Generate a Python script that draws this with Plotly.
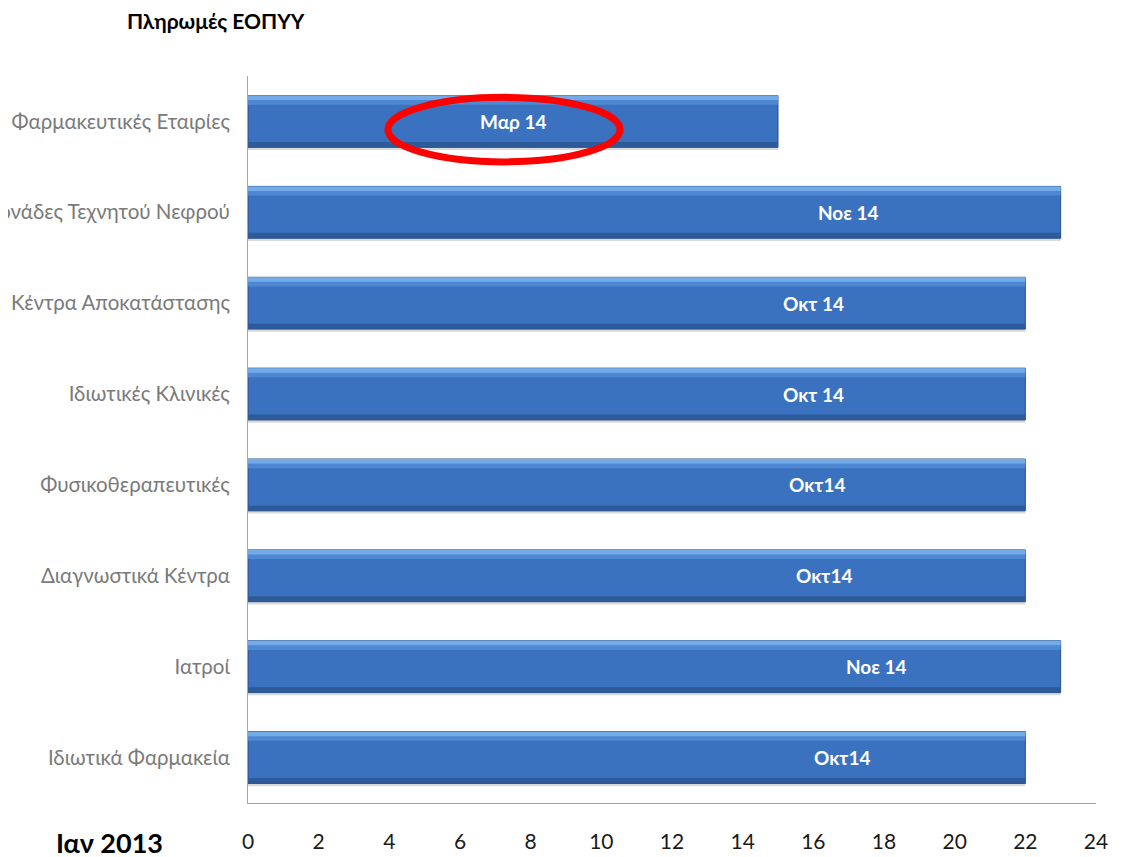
import plotly.graph_objects as go

categories = [
    "Φαρμακευτικές Εταιρίες",
    "Μονάδες Τεχνητού Νεφρού",
    "Κέντρα Αποκατάστασης",
    "Ιδιωτικές Κλινικές",
    "Φυσικοθεραπευτικές",
    "Διαγνωστικά Κέντρα",
    "Ιατροί",
    "Ιδιωτικά Φαρμακεία",
]
months_delay = [15, 23, 22, 22, 22, 22, 23, 22]
bar_labels = ["Μαρ 14", "Νοε 14", "Οκτ 14", "Οκτ 14", "Οκτ14", "Οκτ14", "Νοε 14", "Οκτ14"]
label_x = [7.5, 17.0, 16.0, 16.0, 16.1, 16.3, 17.8, 16.8]
x_ticks = list(range(0, 25, 2))

FONT = "Lato, 'Open Sans', sans-serif"
BW = 0.57

fig = go.Figure()
# soft shadow under each bar
fig.add_trace(go.Bar(
    y=categories, x=months_delay, orientation="h", width=0.03, offset=BW / 2,
    marker=dict(color="#d9d9d9", line=dict(width=0)),
    hoverinfo="skip", showlegend=False,
))
# base bar
fig.add_trace(go.Bar(
    y=categories, x=months_delay, orientation="h", width=BW,
    marker=dict(color="#3b72bf", line=dict(color="#2a4f86", width=1)),
    hoverinfo="x+y", showlegend=False,
))
# top highlight strips (bevel)
fig.add_trace(go.Bar(
    y=categories, x=months_delay, orientation="h", width=0.1, offset=-BW / 2,
    marker=dict(color="#4f88d2", line=dict(width=0)),
    hoverinfo="skip", showlegend=False,
))
fig.add_trace(go.Bar(
    y=categories, x=months_delay, orientation="h", width=0.05, offset=-BW / 2,
    marker=dict(color="#74aae8", line=dict(width=0)),
    hoverinfo="skip", showlegend=False,
))
# bottom shade strip
fig.add_trace(go.Bar(
    y=categories, x=months_delay, orientation="h", width=0.06, offset=BW / 2 - 0.06,
    marker=dict(color="#2d5a99", line=dict(width=0)),
    hoverinfo="skip", showlegend=False,
))

for c, t, lx in zip(categories, bar_labels, label_x):
    fig.add_annotation(x=lx, y=c, text=t, showarrow=False, xref="x", yref="y",
                       font=dict(family=FONT, size=19, color="white", weight="bold"))

# red ellipse highlighting the first bar label
fig.add_shape(type="circle", xref="x", yref="y",
              x0=3.96, x1=10.53, y0=-0.265, y1=0.445,
              line=dict(color="#ff0000", width=7))

fig.add_annotation(text="Πληρωμές ΕΟΠΥΥ", xref="paper", yref="paper",
                   x=-(248 - 216) / 848, y=1 + (76 - 20) / 729, showarrow=False,
                   xanchor="center", yanchor="middle",
                   font=dict(family=FONT, size=21, color="black", weight="bold"))
fig.add_annotation(text="Ιαν 2013", xref="paper", yref="paper",
                   x=-(248 - 109) / 848, y=-(845 - 805) / 729, showarrow=False,
                   xanchor="center", yanchor="middle",
                   font=dict(family=FONT, size=27, color="black", weight="bold"))

fig.update_layout(
    width=1128, height=857,
    margin=dict(l=240, r=40, t=68, b=60),
    paper_bgcolor="white", plot_bgcolor="white",
    barmode="overlay", bargap=1 - BW,
    font=dict(family=FONT),
)
fig.update_xaxes(range=[0, 24], tickvals=x_ticks, showgrid=False, zeroline=False,
                 showline=True, linecolor="#a6a6a6", linewidth=1,
                 ticks="", ticklabelstandoff=20,
                 tickfont=dict(family=FONT, size=21, color="#1a1a1a"))
fig.update_yaxes(categoryorder="array", categoryarray=categories, autorange="reversed",
                 showgrid=False, zeroline=False, showline=True, linecolor="#a6a6a6",
                 linewidth=1, ticks="", ticklabelstandoff=13, automargin=False,
                 tickfont=dict(family=FONT, size=20.5, color="#7a7a7a"))

fig.write_html("out.html")
